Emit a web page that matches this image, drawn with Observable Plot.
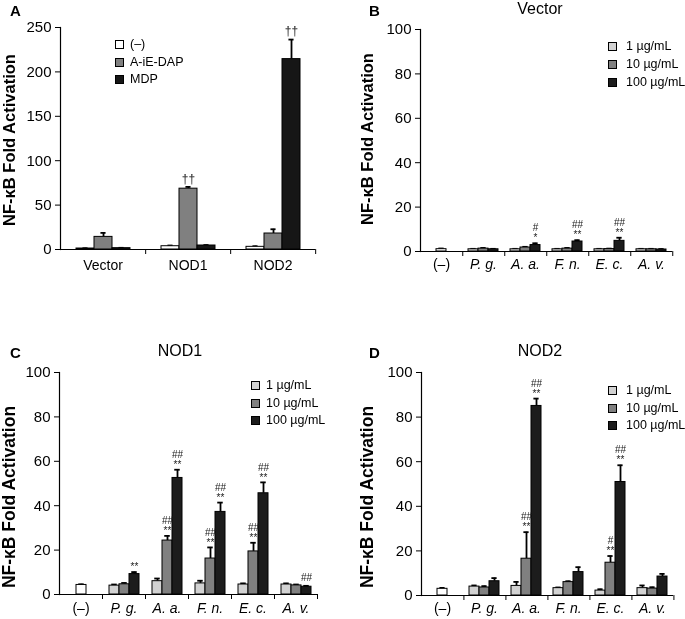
<!DOCTYPE html>
<html>
<head>
<meta charset="utf-8">
<script src="https://cdn.jsdelivr.net/npm/d3@7"></script>
<script src="https://cdn.jsdelivr.net/npm/@observablehq/plot@0.6"></script>
<style>
  body { margin: 0; background: #fff; font-family: "Liberation Sans", Arial, sans-serif; color: #000; }
  #fig { position: relative; width: 685px; height: 619px; overflow: hidden; background: #fff; }
  .abs { position: absolute; white-space: nowrap; line-height: 1; }
  .layer { will-change: transform; }
  .sw { position: absolute; width: 7px; height: 7px; border: 1px solid #000; box-sizing: content-box; }
</style>
</head>
<body>
<div id="fig"></div>
<script>
// ---------------- DATA ----------------
// Panel A
const aGroups = ["Vector", "NOD1", "NOD2"];
const aSeries = ["(–)", "A-iE-DAP", "MDP"];
const aMeans = [[1.1, 14.2, 1.5], [3.7, 68.5, 4.5], [3.0, 18.0, 214.4]];
const aSD    = [[0.3, 4.5, 0.4], [0.8, 2.0, 0.5], [0.7, 4.8, 22.0]];
const aSig   = [["", "", ""], ["", "††", ""], ["", "", "††"]];
const aTicks = [0, 50, 100, 150, 200, 250];

// Panels B–D
const bacteria = ["(–)", "P. g.", "A. a.", "F. n.", "E. c.", "A. v."];
const doses = ["1 µg/mL", "10 µg/mL", "100 µg/mL"];
const doseTicks = [0, 20, 40, 60, 80, 100];

// B: Vector
const vecMeans = [[1.05], [1.0, 1.3, 1.0], [1.0, 1.8, 2.9], [1.0, 1.3, 4.5], [1.0, 1.1, 4.8], [1.0, 1.0, 0.9]];
const vecSD    = [[0.3], [0.2, 0.3, 0.2], [0.2, 0.3, 0.8], [0.2, 0.3, 0.6], [0.2, 0.2, 1.4], [0.2, 0.2, 0.2]];
const vecStar  = [[""], ["", "", ""], ["", "", "*"], ["", "", "**"], ["", "", "**"], ["", "", ""]];
const vecHash  = [[""], ["", "", ""], ["", "", "#"], ["", "", "##"], ["", "", "##"], ["", "", ""]];

// C: NOD1
const nod1Means = [[4.3], [4.0, 4.6, 9.2], [6.0, 24.3, 52.5], [5.0, 16.2, 37.2], [4.5, 19.4, 45.6], [4.5, 4.1, 3.5]];
const nod1SD    = [[0.3], [0.5, 0.6, 0.9], [1.2, 2.1, 3.7], [1.2, 5.0, 4.2], [0.5, 3.9, 4.9], [0.5, 0.4, 0.4]];
const nod1Star  = [[""], ["", "", "**"], ["", "**", "**"], ["", "**", "**"], ["", "**", "**"], ["", "", ""]];
const nod1Hash  = [[""], ["", "", ""], ["", "##", "##"], ["", "##", "##"], ["", "##", "##"], ["", "", "##"]];

// D: NOD2
const nod2Means = [[3.0], [4.0, 3.6, 6.4], [4.3, 16.5, 85.0], [3.3, 6.0, 10.5], [2.2, 14.7, 50.9], [3.3, 3.1, 8.5]];
const nod2SD    = [[0.4], [0.5, 0.6, 1.4], [1.8, 11.9, 3.3], [0.3, 0.4, 2.2], [0.6, 3.0, 7.5], [1.2, 0.6, 1.2]];
const nod2Star  = [[""], ["", "", ""], ["", "**", "**"], ["", "", ""], ["", "**", "**"], ["", "", ""]];
const nod2Hash  = [[""], ["", "", ""], ["", "##", "##"], ["", "", ""], ["", "#", "##"], ["", "", ""]];

// ---------------- BUILD ----------------
const FONT = "Liberation Sans, Arial, sans-serif";
const fig = document.getElementById("fig");

function rowsA() {
  const rows = [];
  aGroups.forEach((g, i) => aSeries.forEach((s, j) => {
    rows.push({cat: g, slot: s, key: s, mean: aMeans[i][j], top: aMeans[i][j] + aSD[i][j], star: "", hash: aSig[i][j]});
  }));
  return rows;
}

function rowsDose(means, sd, star, hash) {
  const rows = [];
  bacteria.forEach((b, i) => means[i].forEach((m, j) => {
    const ctrl = means[i].length === 1;
    rows.push({cat: b, slot: ctrl ? doses[1] : doses[j], key: ctrl ? "control" : doses[j],
               mean: m, top: m + sd[i][j], star: star[i][j], hash: hash[i][j]});
  }));
  return rows;
}

function barPanel(o) {
  const bandW = (o.width - o.ml - o.mr) / o.cats.length;
  const slotW = bandW / (o.slots.length + 2 * o.slotPad);
  const capInset = Math.max(0, (slotW - o.cap) / 2);
  const plain = o.cats.filter(c => !o.italic(c));
  const ital = o.cats.filter(c => o.italic(c));
  const chart = Plot.plot({
    width: o.width, height: o.height,
    marginLeft: o.ml, marginRight: o.mr, marginTop: o.mt, marginBottom: o.mb,
    style: {background: "transparent", overflow: "visible", fontFamily: FONT, color: "#000"},
    fx: {domain: o.cats, padding: 0, axis: null, label: null},
    x: {domain: o.slots, paddingInner: 0, paddingOuter: o.slotPad, axis: null, label: null},
    y: {domain: [0, o.yMax], axis: null, label: null},
    color: {type: "ordinal", domain: o.keys, range: o.colors},
    marks: [
      Plot.ruleX(o.rows, {fx: "cat", x: "slot", y1: "mean", y2: "top", stroke: "#000", strokeWidth: 1.8}),
      Plot.tickY(o.rows, {fx: "cat", x: "slot", y: "top", stroke: "#000", strokeWidth: 1.8, insetLeft: capInset, insetRight: capInset}),
      Plot.barY(o.rows, {fx: "cat", x: "slot", y: "mean", fill: "key", stroke: "#000", strokeWidth: 1}),
      Plot.ruleY([0], {stroke: "#000", strokeWidth: 1.2}),
      Plot.frame({anchor: "left", facetAnchor: "left", stroke: "#000", strokeWidth: 1.2}),
      Plot.axisY({ticks: o.yTicks, tickSize: 5, tickPadding: 4, fontSize: o.tickFont, facetAnchor: "left"}),
      Plot.axisFx({anchor: "bottom", tickSize: 5, tickFormat: () => "", dx: bandW / 2}),
      Plot.text(plain, {fx: d => d, text: d => d, frameAnchor: "bottom", dy: o.labelDy, fontSize: o.catFont, fill: "#000"}),
      Plot.text(ital, {fx: d => d, text: d => d, frameAnchor: "bottom", dy: o.labelDy, fontSize: o.catFont, fontStyle: "italic", fill: "#000"}),
      Plot.text(o.rows.filter(d => d.star), {fx: "cat", x: "slot", y: "top", text: "star", dy: -5, fontSize: 10, fill: "#222"}),
      Plot.text(o.rows.filter(d => d.hash && d.star), {fx: "cat", x: "slot", y: "top", text: "hash",
        dy: -15, fontSize: o.hashFont, fill: "#222"}),
      Plot.text(o.rows.filter(d => d.hash && !d.star), {fx: "cat", x: "slot", y: "top", text: "hash",
        dy: o.soloHashDy, fontSize: o.hashFont, fill: "#222"})
    ]
  });
  const wrap = document.createElement("div");
  wrap.className = "abs layer";
  wrap.style.left = o.left + "px";
  wrap.style.top = o.top + "px";
  wrap.appendChild(chart);
  fig.appendChild(wrap);
}

function text(str, x, y, opts = {}) {
  const d = document.createElement("div");
  d.className = "abs";
  d.textContent = str;
  d.style.left = x + "px";
  d.style.top = y + "px";
  d.style.fontSize = (opts.size || 14) + "px";
  if (opts.bold) d.style.fontWeight = "bold";
  if (opts.transform) d.style.transform = opts.transform;
  fig.appendChild(d);
  return d;
}

function yTitle(cx, cy, size) {
  text("NF-κB Fold Activation", cx, cy, {size, bold: true, transform: "translate(-50%,-50%) rotate(-90deg)"});
}

function legend(labels, colors, sx, ys, tx, size) {
  labels.forEach((l, i) => {
    const s = document.createElement("div");
    s.className = "sw";
    s.style.left = sx + "px";
    s.style.top = (ys[i] - 4) + "px";
    s.style.background = colors[i];
    fig.appendChild(s);
    text(l, tx, ys[i], {size, transform: "translateY(-50%)"});
  });
}

const doseColors = ["#ffffff", "#d2d2d2", "#808080", "#1c1c1c"];
const doseKeys = ["control", ...doses];
const aColors = ["#ffffff", "#808080", "#161616"];

// Panel A
barPanel({
  left: 0, top: 0, width: 340, height: 290, ml: 59, mr: 25, mt: 27, mb: 41,
  cats: aGroups, slots: aSeries, keys: aSeries, colors: aColors, slotPad: 0.76, cap: 6,
  rows: rowsA(), yMax: 250, yTicks: aTicks, tickFont: 15, catFont: 14, labelDy: 20,
  italic: () => false, soloHashDy: -8, hashFont: 12
});
// Panel B
barPanel({
  left: 340, top: 0, width: 345, height: 290, ml: 78, mr: 12, mt: 29, mb: 39,
  cats: bacteria, slots: doses, keys: doseKeys, colors: doseColors, slotPad: 0.49, cap: 6,
  rows: rowsDose(vecMeans, vecSD, vecStar, vecHash), yMax: 100, yTicks: doseTicks, tickFont: 15, catFont: 14, labelDy: 17,
  italic: c => c !== "(–)", soloHashDy: -7, hashFont: 10
});
// Panel C
barPanel({
  left: 0, top: 310, width: 340, height: 309, ml: 59, mr: 23, mt: 62, mb: 25,
  cats: bacteria, slots: doses, keys: doseKeys, colors: doseColors, slotPad: 0.55, cap: 6,
  rows: rowsDose(nod1Means, nod1SD, nod1Star, nod1Hash), yMax: 100, yTicks: doseTicks, tickFont: 15, catFont: 14, labelDy: 18,
  italic: c => c !== "(–)", soloHashDy: -8, hashFont: 10
});
// Panel D
barPanel({
  left: 340, top: 310, width: 345, height: 309, ml: 78, mr: 10, mt: 62, mb: 24,
  cats: bacteria, slots: doses, keys: doseKeys, colors: doseColors, slotPad: 0.49, cap: 6,
  rows: rowsDose(nod2Means, nod2SD, nod2Star, nod2Hash), yMax: 100, yTicks: doseTicks, tickFont: 15, catFont: 14, labelDy: 17,
  italic: c => c !== "(–)", soloHashDy: -8, hashFont: 10
});

// Panel letters and titles
text("A", 10, 3, {size: 15, bold: true});
text("B", 369, 3, {size: 15, bold: true});
text("C", 10, 345, {size: 15, bold: true});
text("D", 369, 345, {size: 15, bold: true});
text("Vector", 540, 1, {size: 16, transform: "translateX(-50%)"});
text("NOD1", 180, 343, {size: 16, transform: "translateX(-50%)"});
text("NOD2", 540, 343, {size: 16, transform: "translateX(-50%)"});

// Y titles
yTitle(9, 140, 16.5);
yTitle(367, 139, 16.5);
yTitle(10, 497, 17.5);
yTitle(368, 497, 17.5);

// Legends
legend(aSeries, aColors, 115, [44, 62, 79], 130, 12.5);
legend(doses, doseColors.slice(1), 608, [46, 64, 82], 626, 12.5);
legend(doses, doseColors.slice(1), 251, [385, 403, 420], 266, 12.5);
legend(doses, doseColors.slice(1), 608, [390, 408, 425], 626, 12.5);
</script>
</body>
</html>
